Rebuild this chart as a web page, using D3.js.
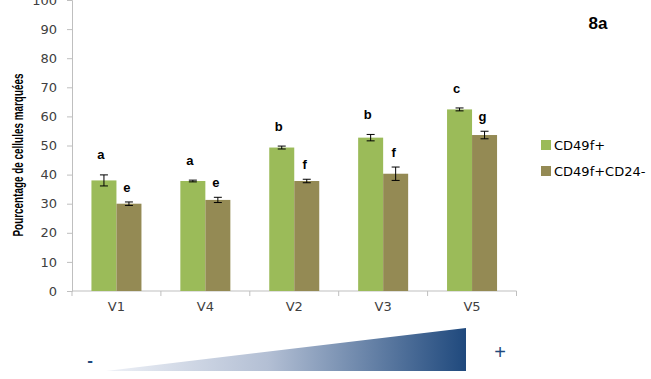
<!DOCTYPE html>
<html>
<head>
<meta charset="utf-8">
<script src="https://cdn.jsdelivr.net/npm/d3@7"></script>
<style>
  html, body { margin: 0; padding: 0; background: #fff; }
  svg { display: block; }
</style>
</head>
<body>
<div id="chart"></div>
<script>
(function () {
  'use strict';

  // --- data ---
  const categories = ['V1', 'V4', 'V2', 'V3', 'V5'];
  const seriesNames = ['CD49f+', 'CD49f+CD24-'];
  const cd49f = [38.0, 37.8, 49.3, 52.7, 62.4];
  const cd49fErr = [1.9, 0.3, 0.5, 1.1, 0.5];
  const cd49fCd24 = [30.0, 31.3, 37.8, 40.3, 53.6];
  const cd49fCd24Err = [0.6, 0.9, 0.6, 2.3, 1.3];
  const cd49fLetters = ['a', 'a', 'b', 'b', 'c'];
  const cd49fCd24Letters = ['e', 'e', 'f', 'f', 'g'];
  const yTicks = [0, 10, 20, 30, 40, 50, 60, 70, 80, 90, 100];

  const COLORS = ['#9bbb59', '#948a54'];
  const AXIS = '#bfbfbf';
  const W = 651, H = 379;
  const TICK_FONT = 'DejaVu Sans, Verdana, sans-serif';

  const svg = d3.select('#chart').append('svg')
    .attr('width', W).attr('height', H)
    .attr('viewBox', `0 0 ${W} ${H}`);

  const plot = { left: 72, right: 516.5, top: 0, bottom: 291 };

  const x = d3.scaleBand().domain(categories)
    .range([plot.left, plot.right]).paddingInner(0).paddingOuter(0);
  const groupW = x.bandwidth() * 0.5625;
  const xs = d3.scaleBand().domain([0, 1])
    .range([(x.bandwidth() - groupW) / 2, (x.bandwidth() + groupW) / 2]);
  const y = d3.scaleLinear().domain([0, 100]).range([plot.bottom, plot.top]);

  // y axis
  const yAxis = d3.axisLeft(y).tickValues(yTicks).tickSize(5).tickPadding(10);
  const gy = svg.append('g').attr('transform', `translate(${plot.left},0)`).call(yAxis);
  gy.select('.domain').attr('stroke', AXIS);
  gy.selectAll('.tick line').attr('stroke', AXIS);
  gy.selectAll('.tick text')
    .attr('fill', '#404040').attr('font-size', 13)
    .attr('font-family', TICK_FONT);

  // x axis
  const xAxis = d3.axisBottom(x).tickSize(0).tickPadding(11);
  const gx = svg.append('g').attr('transform', `translate(0,${plot.bottom})`).call(xAxis);
  gx.select('.domain').attr('stroke', AXIS).attr('d', `M${plot.left},0H${plot.right}`);
  gx.selectAll('.tick text')
    .attr('fill', '#404040').attr('font-size', 13)
    .attr('font-family', TICK_FONT);
  // category separators
  const bounds = categories.map(c => x(c)).concat([plot.right]);
  gx.selectAll('line.sep').data(bounds).join('line')
    .attr('class', 'sep')
    .attr('x1', d => d).attr('x2', d => d)
    .attr('y1', 0).attr('y2', 5)
    .attr('stroke', AXIS);

  const series = [
    { vals: cd49f, err: cd49fErr, letters: cd49fLetters, lift: 20, dx: -3 },
    { vals: cd49fCd24, err: cd49fCd24Err, letters: cd49fCd24Letters, lift: 15, dx: -2 }
  ];

  series.forEach((s, si) => {
    const g = svg.append('g');
    const rows = categories.map((c, i) => ({ c, v: s.vals[i], e: s.err[i], l: s.letters[i] }));
    const cx = d => x(d.c) + xs(si) + xs.bandwidth() / 2;

    g.selectAll('rect').data(rows).join('rect')
      .attr('x', d => x(d.c) + xs(si))
      .attr('y', d => y(d.v))
      .attr('width', xs.bandwidth())
      .attr('height', d => y(0) - y(d.v))
      .attr('fill', COLORS[si]);

    // error bars
    g.selectAll('path.err').data(rows).join('path')
      .attr('class', 'err')
      .attr('d', d => {
        const c = cx(d), t = y(d.v + d.e), b = y(d.v - d.e);
        return `M${c - 4},${t}H${c + 4}M${c},${t}V${b}M${c - 4},${b}H${c + 4}`;
      })
      .attr('stroke', '#000').attr('stroke-width', 1).attr('fill', 'none');

    // significance letters
    g.selectAll('text.lt').data(rows).join('text')
      .attr('class', 'lt')
      .attr('x', d => cx(d) + s.dx)
      .attr('y', d => y(d.v + d.e) - s.lift)
      .attr('dy', '0.35em')
      .attr('text-anchor', 'middle')
      .attr('font-size', 13).attr('font-weight', 'bold')
      .attr('font-family', 'Liberation Sans, Arial, sans-serif')
      .attr('fill', '#000')
      .text(d => d.l);
  });

  // y title
  svg.append('text')
    .attr('transform', 'translate(23,155) rotate(-90)')
    .attr('text-anchor', 'middle')
    .attr('font-size', 15).attr('font-weight', 'bold')
    .attr('font-family', 'Liberation Sans Narrow, Arial Narrow, Liberation Sans, sans-serif')
    .attr('textLength', 163).attr('lengthAdjust', 'spacingAndGlyphs')
    .attr('fill', '#000')
    .text('Pourcentage de cellules marquées');

  // panel label
  svg.append('text')
    .attr('x', 598).attr('y', 29)
    .attr('text-anchor', 'middle')
    .attr('font-size', 17).attr('font-weight', 'bold')
    .attr('font-family', 'Liberation Sans, Arial, sans-serif')
    .text('8a');

  // legend
  const leg = svg.append('g').attr('transform', 'translate(541,140)');
  seriesNames.forEach((n, i) => {
    leg.append('rect').attr('x', 0).attr('y', i * 26).attr('width', 10).attr('height', 10)
      .attr('fill', COLORS[i]);
    leg.append('text').attr('x', 13).attr('y', i * 26 + 5).attr('dy', '0.35em')
      .attr('font-size', 13).attr('fill', '#000')
      .attr('font-family', TICK_FONT)
      .text(n);
  });

  // gradient wedge
  const defs = svg.append('defs');
  const grad = defs.append('linearGradient').attr('id', 'wedge')
    .attr('x1', '0%').attr('x2', '100%').attr('y1', '0%').attr('y2', '0%');
  grad.append('stop').attr('offset', '0%').attr('stop-color', '#eef1f7');
  grad.append('stop').attr('offset', '45%').attr('stop-color', '#b3bfd4');
  grad.append('stop').attr('offset', '100%').attr('stop-color', '#1f497d');
  svg.append('path')
    .attr('d', 'M106,371L466,328L466,371Z')
    .attr('fill', 'url(#wedge)');

  svg.append('text').attr('x', 90).attr('y', 360).attr('dy', '0.35em')
    .attr('text-anchor', 'middle').attr('font-size', 17).attr('font-weight', 'bold')
    .attr('fill', '#1f497d').attr('font-family', 'Liberation Sans, Arial, sans-serif')
    .text('-');
  svg.append('text').attr('x', 500).attr('y', 352).attr('dy', '0.35em')
    .attr('text-anchor', 'middle').attr('font-size', 20)
    .attr('fill', '#1f497d').attr('font-family', 'Liberation Sans, Arial, sans-serif')
    .text('+');
})();
</script>
</body>
</html>
